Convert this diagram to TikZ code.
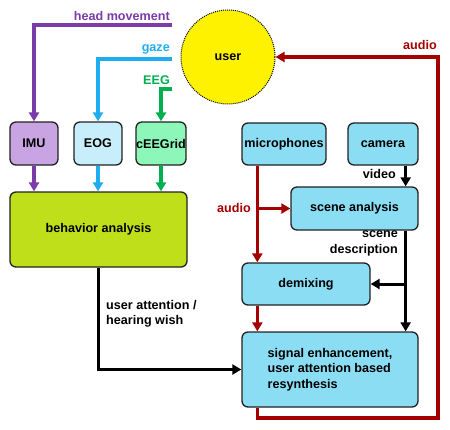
\documentclass[tikz,border=0pt]{standalone}
\usepackage{fontspec}
\setmainfont{Liberation Sans}
\usetikzlibrary{arrows.meta,calc}
\definecolor{cpurple}{HTML}{7B3BA8}
\definecolor{fimu}{HTML}{C8A5E2}
\definecolor{ccyan}{HTML}{1EAEF0}
\definecolor{feog}{HTML}{C8EEFC}
\definecolor{cgreen}{HTML}{00B050}
\definecolor{fgrid}{HTML}{8CF7B9}
\definecolor{fbeh}{HTML}{BEDF1A}
\definecolor{fblue}{HTML}{8BDDF4}
\definecolor{cred}{HTML}{A50000}
\definecolor{cborder}{HTML}{222222}
\tikzset{
  box/.style={draw=cborder,line width=1.3pt,rounded corners=6pt,inner sep=0pt,
    font=\fontsize{12.6}{15.3}\selectfont\bfseries,align=center},
  lbl/.style={inner sep=0pt,font=\fontsize{12.6}{15.5}\selectfont\bfseries},
  conn/.style={line width=3.5pt,-{Triangle[width=10pt,length=9pt]}},
  blk/.style={line width=3pt,-{Triangle[width=10pt,length=9pt]}},
}
\begin{document}
\begin{tikzpicture}[x=1pt,y=-1pt]
\useasboundingbox (0,0) rectangle (450,429);
% user
\node[circle,draw=black,densely dotted,line width=1pt,fill=yellow,minimum size=94pt,inner sep=0pt,
  font=\fontsize{12.6}{15}\selectfont\bfseries] (user) at (228,57) {user};
% sensor boxes
\node[box,fill=fimu,minimum width=48pt,minimum height=43pt] (imu) at (34,143.5) {IMU};
\node[box,fill=feog,minimum width=48pt,minimum height=43pt] (eog) at (98,143.5) {EOG};
\node[box,fill=fgrid,minimum width=50pt,minimum height=43pt] (grid) at (161,143.5) {cEEGrid};
\node[box,fill=fbeh,minimum width=177pt,minimum height=75pt] (beh) at (98.5,229.5) {behavior analysis};
% right side
\node[box,fill=fblue,minimum width=84pt,minimum height=42pt] (mic) at (284,144) {microphones};
\node[box,fill=fblue,minimum width=70pt,minimum height=42pt] (cam) at (383,144) {camera};
\node[box,fill=fblue,minimum width=127pt,minimum height=43pt] (scene) at (354.5,208.5) {scene analysis};
\node[box,fill=fblue,minimum width=128pt,minimum height=42pt] (dem) at (306,284) {demixing};
\node[box,fill=fblue,minimum width=176pt,minimum height=75pt,align=left] (sig) at (330,369.5)
  {signal enhancement,\\user attention based\\resynthesis};
% coordinates
\coordinate (hm) at (172,25);
\coordinate (gz) at (172,59);
\coordinate (eg) at (172,89);
\coordinate (lowc) at (438,418);
% sensor inputs
\draw[conn,cpurple] (hm) -| (imu.north);
\draw[conn,ccyan] (gz) -| (eog.north);
\draw[conn,cgreen] (eg) -| (grid.north);
\node[lbl,cpurple,anchor=east] (lhm) at (170,16) {head movement};
\node[lbl,ccyan,anchor=east] (lgz) at (170,49) {gaze};
\node[lbl,cgreen,anchor=east] (leg) at (170,80) {EEG};
% sensors to behavior
\draw[conn,cpurple] (imu.south) -- (imu.south |- beh.north);
\draw[conn,ccyan] (eog.south) -- (eog.south |- beh.north);
\draw[conn,cgreen] (grid.south) -- (grid.south |- beh.north);
% behavior to signal
\draw[blk] (beh.south) |- (sig.west);
\node[lbl,anchor=north west,align=left] (latt) at (106,300) {user attention /\\hearing wish};
% microphones
\coordinate (mA) at ([xshift=16pt]mic.south west);
\coordinate (mB) at (mA |- scene.west);
\draw[conn,cred] (mA) -- (mA |- dem.north);
\draw[conn,cred] (mB) -- (scene.west);
\node[lbl,cred,anchor=east] (laud1) at (251,208) {audio};
\coordinate (dA) at ([xshift=16pt]dem.south west);
\draw[conn,cred] (dA) -- (dA |- sig.north);
% camera
\coordinate (cA) at ([xshift=-13pt]cam.south east);
\draw[blk] (cA) -- (cA |- scene.north);
\node[lbl,anchor=east] (lvid) at (396,174) {video};
\coordinate (sA) at ([xshift=-13pt]scene.south east);
\coordinate (sB) at (sA |- dem.east);
\draw[blk] (sA) -- (sA |- sig.north);
\draw[blk] (sB) -- (dem.east);
\node[lbl,anchor=north east,align=right] (lsd) at (398,231) {scene\\description};
% audio loop
\coordinate (oA) at ([xshift=16pt]sig.south west);
\draw[conn,cred] (oA) |- (lowc) -- (lowc |- user.east) -- (user.east);
\node[lbl,cred,anchor=east] (laud2) at (437,45) {audio};
\end{tikzpicture}
\end{document}
